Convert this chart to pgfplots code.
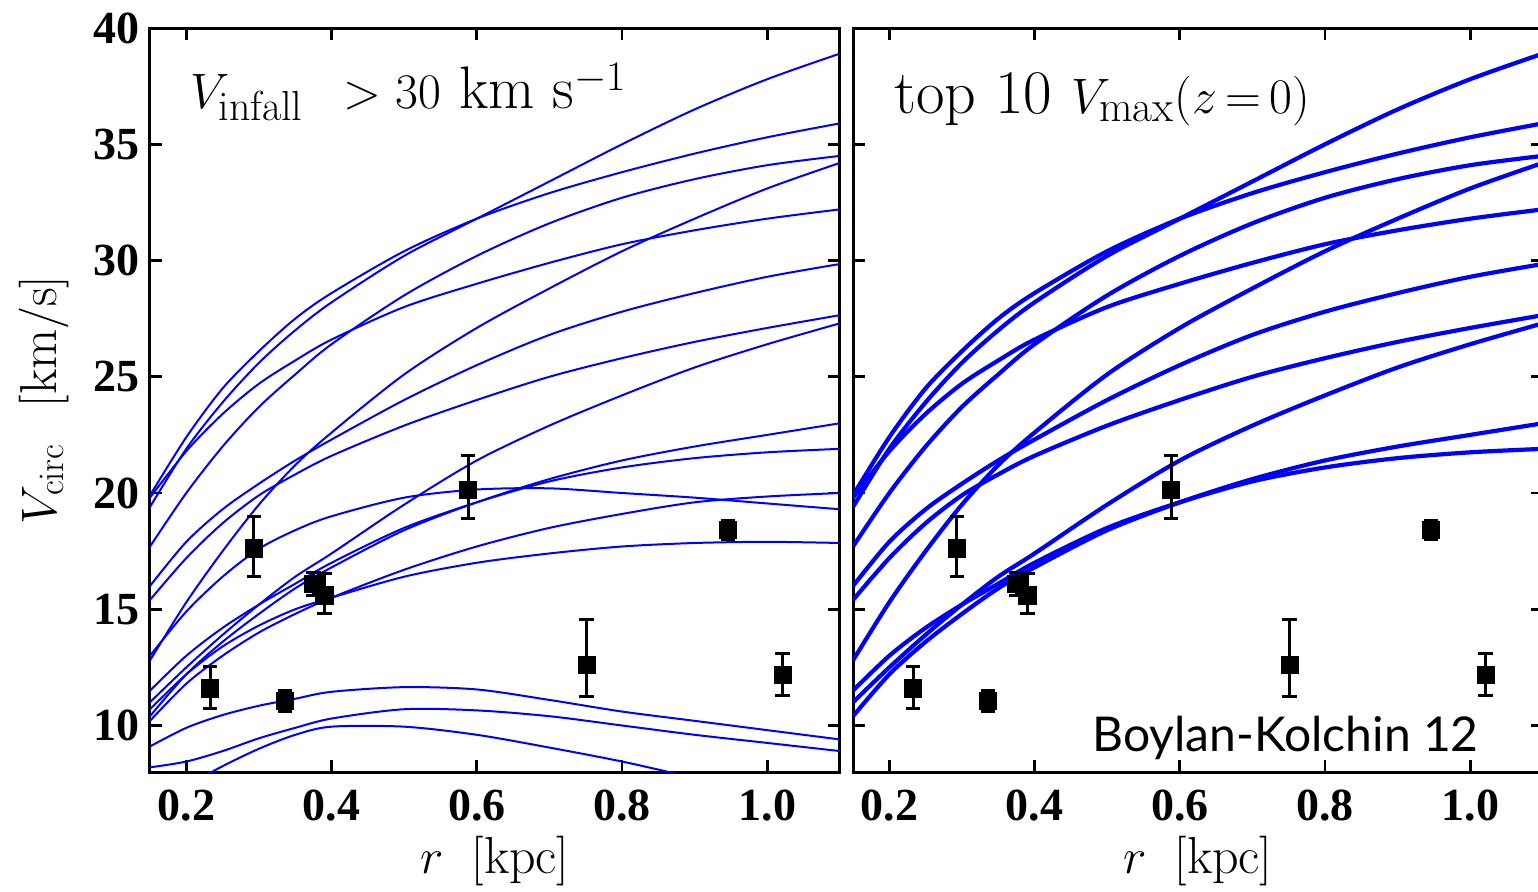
\documentclass[border=0pt]{standalone}
\usepackage{fontspec}
\usepackage{pgfplots}
\usepackage{pgfplotstable}
\pgfplotsset{compat=1.18}
\newfontfamily\tickfont{Liberation Serif}
\newfontfamily\gillfont{Lato}

\pgfplotstableread{
r    R1   R2   R3   R4   R5   R6   R7   R8   R9   R10  E1   E2   E3   E4   E5   E6
0.15 19.4 19.9 17.7 12.8 19.8 16.0 15.4 11.0 10.4 11.5 13.0 10.2 10.7 9.1  8.2  6.5
0.20 21.9 22.4 20.0 15.3 21.8 17.9 17.2 12.5 12.2 13.0 14.9 11.8 12.2 9.9  8.45 7.4
0.25 23.9 24.5 22.0 17.5 23.4 19.3 18.7 13.9 13.6 14.2 16.4 13.0 13.4 10.45 8.9 8.25
0.30 25.6 26.1 23.7 19.5 24.7 20.4 19.9 15.2 14.8 15.2 17.6 14.0 14.3 10.85 9.45 9.0
0.35 27.0 27.5 25.1 21.2 25.7 21.4 20.8 16.4 15.9 16.1 18.4 14.8 15.0 11.15 9.9 9.6
0.40 28.2 28.6 26.4 22.6 26.6 22.3 21.6 17.4 16.8 17.0 19.0 15.5 15.5 11.45 10.3 9.95
0.50 30.2 30.4 28.5 25.1 28.0 24.0 22.9 19.5 18.4 18.5 19.8 16.7 16.4 11.65 10.7 9.95
0.60 31.8 31.8 30.2 27.1 29.0 25.5 24.0 21.4 19.6 19.6 20.15 17.7 17.0 11.55 10.65 9.6
0.70 33.4 32.9 31.6 28.8 29.9 26.8 25.0 22.9 20.6 20.5 20.2 18.5 17.4 11.1 10.4 9.05
0.80 35.0 33.8 32.7 30.4 30.7 27.8 25.8 24.2 21.4 21.1 20.0 19.1 17.7 10.6 10.0 8.45
0.90 36.5 34.6 33.5 31.8 31.3 28.6 26.5 25.4 22.0 21.5 19.8 19.6 17.85 10.2 9.6 7.75
1.00 37.8 35.3 34.1 33.1 31.8 29.3 27.1 26.4 22.5 21.75 19.55 19.85 17.9 9.8 9.25 7.1
1.10 38.9 35.9 34.5 34.2 32.2 29.85 27.65 27.3 23.0 21.9 19.3 20.0 17.85 9.4 8.9 6.5
}\curves

\pgfplotstableread{
r     v     ep    em
0.233 11.6  0.93  0.86
0.293 17.62 1.36  1.22
0.336 11.05 0.45  0.45
0.375 16.1  0.5   0.5
0.390 15.6  0.93  0.79
0.588 20.13 1.5   1.22
0.751 12.6  1.94  1.36
0.946 18.41 0.4   0.4
1.021 12.17 0.93  0.86
}\obs

\pgfplotsset{
  panel/.style={
    scale only axis, width=345pt, height=372pt,
    xmin=0.15, xmax=1.1, ymin=8, ymax=40,
    xtick={0.2,0.4,0.6,0.8,1.0}, ytick={10,15,20,25,30,35,40},
    tick align=inside, major tick length=6pt,
    axis line style={line width=1.5pt},
    tick style={line width=1.4pt, black},
    /pgf/number format/assume math mode=true,
    ticklabel style={font=\tickfont\bfseries\fontsize{23}{25}\selectfont, inner sep=2pt},
    xticklabel style={/pgf/number format/fixed, /pgf/number format/fixed zerofill, /pgf/number format/precision=1, yshift=-7pt},
    yticklabel style={xshift=-3pt},
    xlabel={$r\;\;[\mathrm{kpc}]$},
    xlabel style={yshift=-2pt},
    label style={font=\fontsize{26}{28}\selectfont},
  },
  obsstyle/.style={only marks, black, mark=square*, mark size=4.3pt,
    error bars/.cd, y dir=both, y explicit,
    error bar style={line width=1.5pt, black},
    error mark options={rotate=90, mark size=3.6pt, line width=1.5pt, black}},
}

\begin{document}
\begin{tikzpicture}
\useasboundingbox (0,0) rectangle (769pt,445.5pt);
\begin{axis}[panel, at={(75pt,59.5pt)}, anchor=south west,
  ylabel={$V_{\mathrm{circ}}\;\;\,[\mathrm{km/s}]$}, ylabel shift=7pt]
\pgfplotsinvokeforeach{R1,R2,R3,R4,R5,R6,R7,R8,R9,R10,E1,E2,E3,E4,E5,E6}{
  \addplot[blue, line width=1pt, smooth, no markers] table[x=r, y=#1] {\curves};
}
\addplot[obsstyle] table[x=r, y=v, y error plus=ep, y error minus=em] {\obs};
\node[anchor=base west, font=\fontsize{30}{32}\selectfont] at (rel axis cs:0.048,0.892) {$V_{\mathrm{infall}}\ \, > 30\ \mathrm{km\ s^{-1}}$};
\end{axis}
\begin{axis}[panel, at={(426.5pt,59.5pt)}, anchor=south west, yticklabels={}]
\pgfplotsinvokeforeach{R1,R2,R3,R4,R5,R6,R7,R8,R9,R10}{
  \addplot[blue, line width=2.1pt, smooth, no markers] table[x=r, y=#1] {\curves};
}
\addplot[obsstyle] table[x=r, y=v, y error plus=ep, y error minus=em] {\obs};
\node[anchor=base west, font=\fontsize{31}{33}\selectfont] at (rel axis cs:0.050,0.885) {top 10 $V_{\mathrm{max}}(z\,{=}\,0)$};
\node[anchor=base east, font=\gillfont\fontsize{24}{26}\selectfont] at (rel axis cs:0.917,0.027) {Boylan-Kolchin 12};
\end{axis}
\end{tikzpicture}
\end{document}
